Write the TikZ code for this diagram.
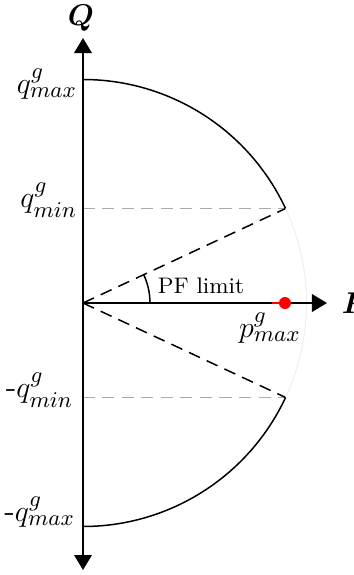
\documentclass[tikz,border=0pt]{standalone}
\usepackage{amsmath,amssymb}
\usepackage{xcolor}
\usetikzlibrary{arrows.meta}
\definecolor{dimc}{HTML}{AAAAAA}
\definecolor{ghostc}{HTML}{EEEEEE}
\tikzset{
  ax/.style={{Triangle[length=6pt,width=7pt]}-{Triangle[length=6pt,width=7pt]},line width=0.8pt},
  ar/.style={-{Triangle[length=6pt,width=7pt]},line width=0.8pt},
  gd/.style={dimc,line width=0.6pt,dash pattern=on 4.8pt off 3pt},
  bd/.style={line width=0.6pt,dash pattern=on 4.8pt off 3pt},
  lbl/.style={font=\fontsize{13}{15}\selectfont,inner sep=1pt}
}
\begin{document}
\begin{tikzpicture}[x=0.4pt,y=0.4pt]
\useasboundingbox (-83,-272) rectangle (271,303);
% axes and limit points
\coordinate (O) at (0,0);
\coordinate (qt) at (0,265);
\coordinate (qb) at (0,-267);
\coordinate (pe) at (244,0);
\coordinate (up) at (25:223.5);
\coordinate (dn) at (-25:223.5);
\coordinate (pm) at (202,0);
\draw[gd] (O |- up) -- (up);
\draw[gd] (O |- dn) -- (dn);
\draw[bd] (O) -- (up);
\draw[bd] (O) -- (dn);
% capability curve
\draw[line width=0.6pt] (0,223.5) arc[start angle=90,end angle=25,radius=223.5];
\draw[ghostc,line width=0.4pt] (up) arc[start angle=25,end angle=-25,radius=223.5];
\draw[line width=0.6pt] (dn) arc[start angle=-25,end angle=-90,radius=223.5];
\draw[line width=0.6pt] (67,0) arc[start angle=0,end angle=25,radius=67];
\draw[ax] (qb) -- (qt);
\draw[ar] (O) -- (pe);
\draw[red,line width=0.8pt] (189,0) -- (pm);
\fill[red] (pm) circle[radius=6];
% labels
\node[font=\large] (Qlab) at (-2,285) {$\boldsymbol{Q}$};
\node[font=\large,anchor=west] (Plab) at (250,0) {$\boldsymbol{P}$};
\node[lbl,anchor=east] (qmax) at (-3,219) {$q^{g}_{max}$};
\node[lbl,anchor=east] (qmin) at (-3,103) {$q^{g}_{min}$};
\node[lbl,anchor=east] (nqmin) at (-7,-87) {-$q^{g}_{min}$};
\node[lbl,anchor=east] (nqmax) at (-5,-209) {-$q^{g}_{max}$};
\node[lbl] (pmax) at (187,-25) {$p^{g}_{max}$};
\node[font=\small,anchor=west,inner sep=1pt] (pf) at (72,17) {PF limit};
\end{tikzpicture}
\end{document}
